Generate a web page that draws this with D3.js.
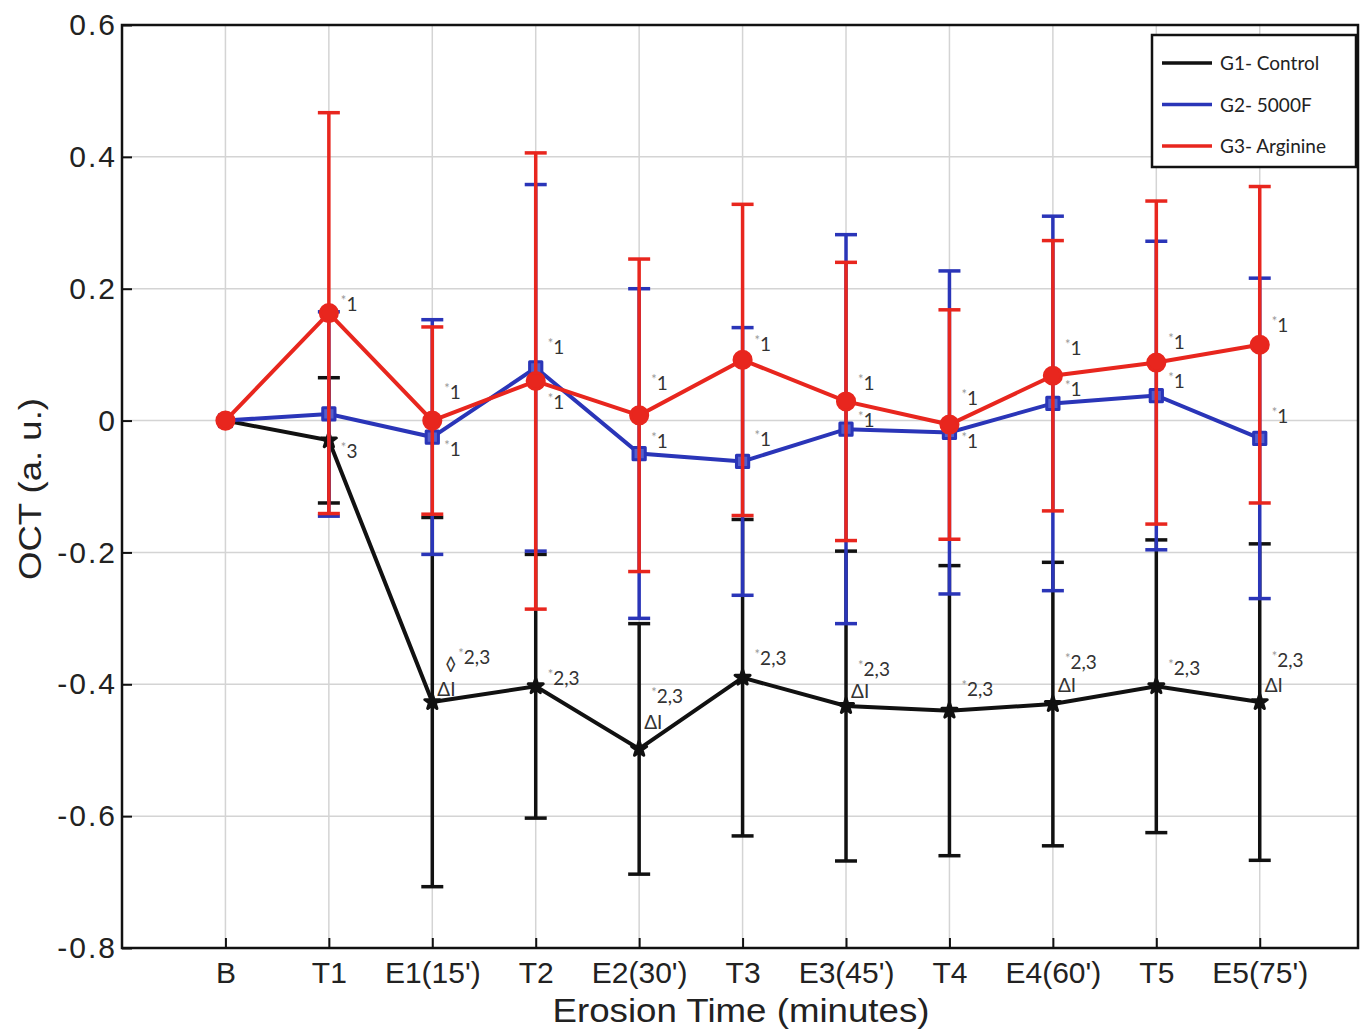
<!DOCTYPE html>
<head>
<meta charset="utf-8">
<script src="https://d3js.org/d3.v7.min.js"></script>
<style>
  body { margin:0; background:#fff; }
  .tick text { font-family: "Liberation Sans", Arial, sans-serif; fill:#222; }
  .grid line { stroke:#d4d4d4; stroke-width:1.5; }
  .ann { font-family: "Lato", "Open Sans", sans-serif; font-size:19px; fill:#333; }
  .ann .star { fill:#999; font-size:13px; }
  .legend text { font-family: "Lato", "Open Sans", sans-serif; font-size:19px; fill:#222; }
</style>
</head>
<body>
<script>
const categories = ["B", "T1", "E1(15')", "T2", "E2(30')", "T3", "E3(45')", "T4", "E4(60')", "T5", "E5(75')"];
const yTicks = [0.6, 0.4, 0.2, 0, -0.2, -0.4, -0.6, -0.8];

// means and half error bars
const g1Mean = [0, -0.03, -0.427, -0.403, -0.498, -0.39, -0.433, -0.44, -0.43, -0.403, -0.427];
const g1Err  = [0, 0.095, 0.28, 0.2, 0.19, 0.24, 0.235, 0.22, 0.215, 0.222, 0.24];
const g2Mean = [0, 0.01, -0.025, 0.08, -0.05, -0.062, -0.013, -0.018, 0.026, 0.038, -0.027];
const g2Err  = [0, 0.155, 0.178, 0.278, 0.25, 0.203, 0.295, 0.245, 0.284, 0.234, 0.243];
const g3Mean = [0, 0.163, 0, 0.06, 0.008, 0.092, 0.029, -0.006, 0.068, 0.088, 0.115];
const g3Err  = [0, 0.304, 0.142, 0.346, 0.237, 0.236, 0.211, 0.174, 0.205, 0.245, 0.24];

const seriesNames = ["G1- Control", "G2- 5000F", "G3- Arginine"];

// significance marks: [category index, value, text]
const starMarks = [
  [1, 0.175, "1"], [1, -0.047, "3"],
  [2, 0.042, "1"], [2, -0.044, "1"], [2, -0.36, "2,3"],
  [3, 0.11, "1"], [3, 0.026, "1"], [3, -0.392, "2,3"],
  [4, 0.055, "1"], [4, -0.032, "1"], [4, -0.42, "2,3"],
  [5, 0.114, "1"], [5, -0.03, "1"], [5, -0.362, "2,3"],
  [6, 0.056, "1"], [6, 0.0, "1"], [6, -0.378, "2,3"],
  [7, 0.032, "1"], [7, -0.032, "1"], [7, -0.408, "2,3"],
  [8, 0.108, "1"], [8, 0.047, "1"], [8, -0.368, "2,3"],
  [9, 0.118, "1"], [9, 0.058, "1"], [9, -0.377, "2,3"],
  [10, 0.144, "1"], [10, 0.006, "1"], [10, -0.365, "2,3"]
];
const deltaMarks = [[2, -0.405], [4, -0.456], [6, -0.408], [8, -0.4], [10, -0.4]];
const diamondMarks = [[2, -0.372]];

const width = 1366, height = 1032;
const mLeft = 122, mRight = 1358, mTop = 25, mBottom = 948;

const svg = d3.select("body").append("svg")
  .attr("width", width).attr("height", height);

const x = d3.scaleLinear().domain([0, 11.95]).range([mLeft, mRight]);
const y = d3.scaleLinear().domain([-0.8, 0.6]).range([mBottom, mTop]);
const xi = i => x(i + 1);

// grid
const grid = svg.append("g").attr("class", "grid");
grid.selectAll(".gy").data(yTicks).enter().append("line")
  .attr("x1", mLeft).attr("x2", mRight)
  .attr("y1", d => y(d)).attr("y2", d => y(d));
grid.selectAll(".gx").data(categories).enter().append("line")
  .attr("x1", (d, i) => xi(i)).attr("x2", (d, i) => xi(i))
  .attr("y1", mTop).attr("y2", mBottom);

// axes
const yAxis = svg.append("g").attr("transform", `translate(${mLeft},0)`)
  .call(d3.axisLeft(y).tickValues(yTicks).tickSizeInner(-10).tickSizeOuter(0)
    .tickFormat(d => d === 0 ? "0" : d.toFixed(1)));
yAxis.selectAll(".tick text").attr("x", -5).attr("font-size", 30).style("letter-spacing", "2px");
yAxis.select(".domain").remove();
yAxis.selectAll(".tick line").attr("stroke", "#111").attr("stroke-width", 2);

const xAxis = svg.append("g").attr("transform", `translate(0,${mBottom})`)
  .call(d3.axisBottom(x).tickValues(d3.range(1, 12)).tickSizeInner(-10).tickSizeOuter(0)
    .tickFormat(d => categories[d - 1]));
xAxis.selectAll(".tick text").attr("y", 14).attr("font-size", 30)
  .attr("font-family", "'Liberation Sans Narrow', 'Liberation Sans', Arial, sans-serif");
xAxis.select(".domain").remove();
xAxis.selectAll(".tick line").attr("stroke", "#111").attr("stroke-width", 2);

// frame
svg.append("rect").attr("x", mLeft).attr("y", mTop)
  .attr("width", mRight - mLeft).attr("height", mBottom - mTop)
  .attr("fill", "none").attr("stroke", "#111").attr("stroke-width", 2.5);

// series
const series = [
  { mean: g1Mean, err: g1Err, color: "#111111", shape: "star" },
  { mean: g2Mean, err: g2Err, color: "#2a35b8", shape: "square" },
  { mean: g3Mean, err: g3Err, color: "#e8261e", shape: "circle" }
];

const line = d3.line().x((d, i) => xi(i)).y(d => y(d));

series.forEach(s => {
  const g = svg.append("g");
  const idx = d3.range(1, s.mean.length);
  g.selectAll(".eb").data(idx).enter().append("line")
    .attr("x1", i => xi(i)).attr("x2", i => xi(i))
    .attr("y1", i => y(s.mean[i] + s.err[i])).attr("y2", i => y(s.mean[i] - s.err[i]))
    .attr("stroke", s.color).attr("stroke-width", 3.5);
  [1, -1].forEach(sg => {
    g.selectAll(".cap" + sg).data(idx).enter().append("line")
      .attr("x1", i => xi(i) - 11).attr("x2", i => xi(i) + 11)
      .attr("y1", i => y(s.mean[i] + sg * s.err[i])).attr("y2", i => y(s.mean[i] + sg * s.err[i]))
      .attr("stroke", s.color).attr("stroke-width", 3.5);
  });
  g.append("path").attr("d", line(s.mean))
    .attr("fill", "none").attr("stroke", s.color).attr("stroke-width", 4);
  const sym = s.shape === "star" ? d3.symbol(d3.symbolStar, 70)
    : s.shape === "square" ? d3.symbol(d3.symbolSquare, 150)
    : d3.symbol(d3.symbolCircle, 230);
  g.selectAll(".pt").data(s.mean).enter().append("path")
    .attr("d", sym)
    .attr("transform", (d, i) => `translate(${xi(i)},${y(d)})`)
    .attr("fill", s.shape === "square" ? "#5560cc" : s.color)
    .attr("stroke", s.color).attr("stroke-width", 3)
    .attr("stroke-linejoin", "round");
});

// significance annotations
const ann = svg.append("g");
starMarks.forEach(([i, v, t]) => {
  const shift = diamondMarks.some(d => d[0] === i && Math.abs(d[1] - v) < 0.03) ? 14 : 0;
  const txt = ann.append("text").attr("class", "ann")
    .attr("x", xi(i) + 12 + shift).attr("y", y(v) + 6);
  txt.append("tspan").attr("class", "star").attr("dy", -6).text("*");
  txt.append("tspan").attr("dy", 6).text(t);
});
deltaMarks.forEach(([i, v]) => {
  ann.append("text").attr("class", "ann")
    .attr("x", xi(i) + 5).attr("y", y(v) + 8).text("\u0394I");
});
diamondMarks.forEach(([i, v]) => {
  ann.append("text").attr("class", "ann")
    .attr("x", xi(i) + 13).attr("y", y(v) + 5).attr("font-size", 16).text("\u25CA");
});

// axis titles
svg.append("text")
  .attr("x", 741).attr("y", 1022)
  .attr("text-anchor", "middle")
  .attr("font-family", "'Liberation Sans Narrow', 'Liberation Sans', Arial, sans-serif")
  .attr("font-size", 33)
  .attr("textLength", 377).attr("lengthAdjust", "spacingAndGlyphs")
  .attr("fill", "#222")
  .text("Erosion Time (minutes)");
svg.append("text")
  .attr("transform", "translate(41,489) rotate(-90)")
  .attr("text-anchor", "middle")
  .attr("font-family", "Liberation Sans, Arial, sans-serif")
  .attr("font-size", 32)
  .attr("textLength", 182).attr("lengthAdjust", "spacingAndGlyphs")
  .attr("fill", "#222")
  .text("OCT (a. u.)");

// legend
const lg = svg.append("g").attr("class", "legend");
lg.append("rect").attr("x", 1152).attr("y", 35).attr("width", 204).attr("height", 132)
  .attr("fill", "#fff").attr("stroke", "#111").attr("stroke-width", 2.5);
seriesNames.forEach((n, k) => {
  const ly = 63 + k * 41.5;
  lg.append("line").attr("x1", 1162).attr("x2", 1212).attr("y1", ly).attr("y2", ly)
    .attr("stroke", series[k].color).attr("stroke-width", 3.5);
  lg.append("text").attr("x", 1220).attr("y", ly + 7).text(n);
});
</script>
</body>
